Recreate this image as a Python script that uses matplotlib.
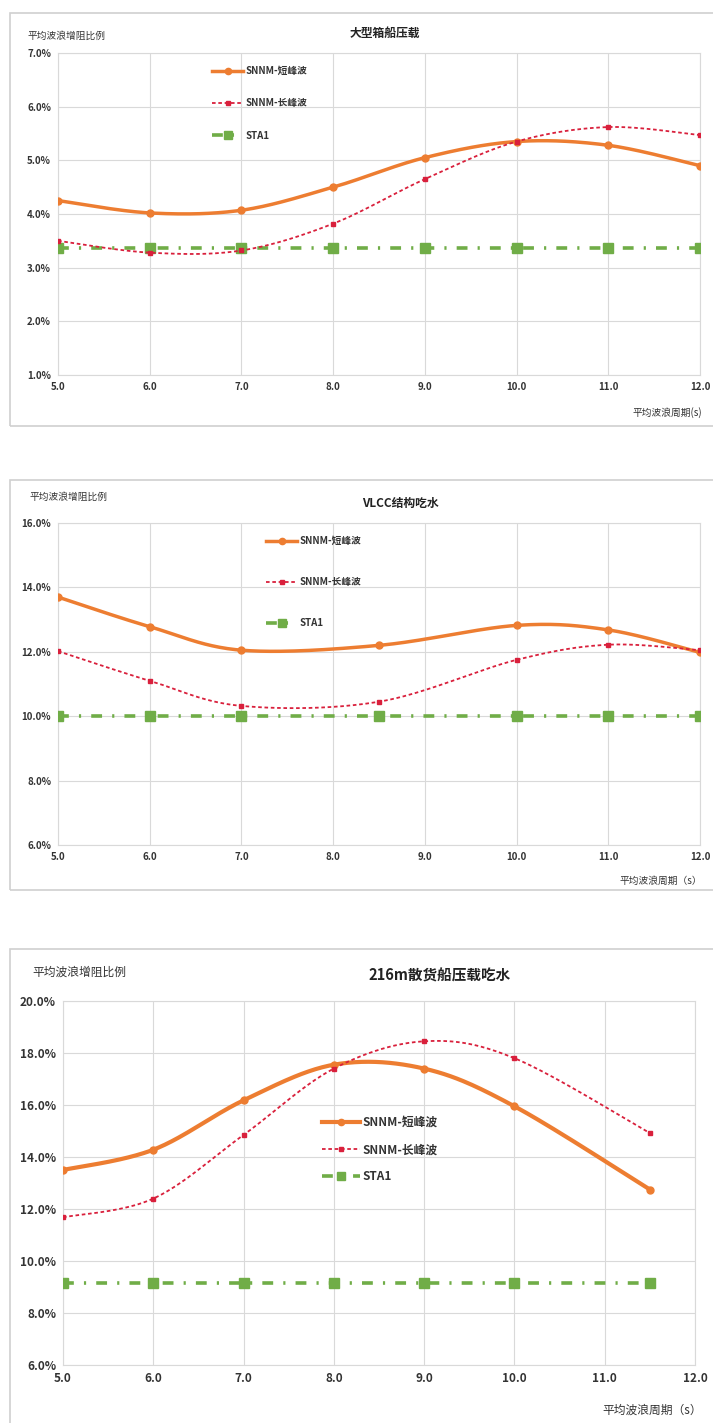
import numpy as np
import matplotlib
matplotlib.use("Agg")
import matplotlib.pyplot as plt
from matplotlib.patches import Rectangle

plt.rcParams['font.family'] = ['Noto Sans CJK SC', 'DejaVu Sans']

# ---- data (values in %) ----
titles = ["大型箱船压载", "VLCC结构吃水", "216m散货船压载吃水"]
series_names = ["SNNM-短峰波", "SNNM-长峰波", "STA1"]

x1 = [5, 6, 7, 8, 9, 10, 11, 12]
short1 = [4.25, 4.02, 4.07, 4.50, 5.05, 5.35, 5.28, 4.90]
long1 = [3.50, 3.28, 3.32, 3.82, 4.65, 5.35, 5.62, 5.47]
sta1_1 = [3.37] * 8

x2 = [5, 6, 7, 8.5, 10, 11, 12]
short2 = [13.70, 12.78, 12.05, 12.20, 12.82, 12.68, 11.98]
long2 = [12.02, 11.10, 10.32, 10.45, 11.75, 12.22, 12.05]
sta1_2 = [10.0] * 7

x3 = [5, 6, 7, 8, 9, 10, 11.5]
short3 = [13.50, 14.28, 16.18, 17.55, 17.40, 15.95, 12.75]
long3 = [11.68, 12.40, 14.85, 17.40, 18.45, 17.80, 14.92]
sta1_3 = [9.15] * 7

x_ticks = [5, 6, 7, 8, 9, 10, 11, 12]
y_ticks1 = [1, 2, 3, 4, 5, 6, 7]
y_ticks2 = [6, 8, 10, 12, 14, 16]
y_ticks3 = [6, 8, 10, 12, 14, 16, 18, 20]

W, H = 713, 1423
fig = plt.figure(figsize=(W / 100, H / 100), dpi=100)

ORANGE = "#ED7D31"
RED = "#D9203C"
GREEN = "#70AD47"


def fx(px):
    return px / W


def fy(py):
    return 1 - py / H


def smooth(x, y, w, h, xr, yr, n=40):
    # Excel-like smoothed line (Bezier through points, tension 1/6) in screen space
    px = (np.asarray(x, float) - xr[0]) / (xr[1] - xr[0]) * w
    py = (np.asarray(y, float) - yr[0]) / (yr[1] - yr[0]) * h
    P = np.column_stack([px, py])
    P = np.vstack([P[0], P, P[-1]])
    out = []
    t = np.linspace(0, 1, n)[:, None]
    for i in range(1, len(P) - 2):
        p0, p1, p2, p3 = P[i - 1], P[i], P[i + 1], P[i + 2]
        c1 = p1 + (p2 - p0) / 6
        c2 = p2 - (p3 - p1) / 6
        seg = ((1 - t) ** 3) * p1 + 3 * ((1 - t) ** 2) * t * c1 + 3 * (1 - t) * t ** 2 * c2 + t ** 3 * p2
        out.append(seg if i == 1 else seg[1:])
    out = np.vstack(out)
    sx = out[:, 0] / w * (xr[1] - xr[0]) + xr[0]
    sy = out[:, 1] / h * (yr[1] - yr[0]) + yr[0]
    return sx, sy


def panel(frame, box, xs, s, l, g, yticks, title, tfs, fs, leg_xy, leg_sp, ylab_xy, title_xy, xlab_xy, lw_s, lfs):
    # outer frame
    fx0, fy0, fx1, fy1 = frame
    fig.patches.append(Rectangle((fx(fx0), fy(fy1)), fx(fx1 - fx0), (fy1 - fy0) / H,
                                 transform=fig.transFigure, fill=False,
                                 edgecolor="#D0D0D0", lw=1.2))
    l0, t0, r0, b0 = box
    ax = fig.add_axes([fx(l0), fy(b0), fx(r0 - l0), (b0 - t0) / H])
    xr = (5, 12)
    yr = (yticks[0], yticks[-1])
    ax.set_xlim(*xr)
    ax.set_ylim(*yr)
    w, h = r0 - l0, b0 - t0

    sx, sy = smooth(xs, s, w, h, xr, yr)
    ax.plot(sx, sy, color=ORANGE, lw=lw_s, solid_capstyle="round", zorder=4)
    ax.plot(xs, s, color=ORANGE, marker="o", ms=5, ls="none", zorder=5)
    sx, sy = smooth(xs, l, w, h, xr, yr)
    ax.plot(sx, sy, color=RED, lw=1.3, dashes=(2, 1.5), zorder=4)
    ax.plot(xs, l, color=RED, marker="s", ms=3.5, ls="none", zorder=5)
    ax.plot(xs, g, color=GREEN, lw=2.6, dashes=(3, 2.8, 0.6, 2.8), zorder=3)
    ax.plot(xs, g, color=GREEN, marker="s", ms=6.5, ls="none", zorder=3)

    # legend handles drawn like Excel (line + marker)
    lh1, = ax.plot([], [], color=ORANGE, lw=lw_s, marker="o", ms=4.5)
    lh2, = ax.plot([], [], color=RED, lw=1.3, dashes=(2, 1.5), marker="s", ms=3.5)
    lh3, = ax.plot([], [], color=GREEN, lw=2.6, dashes=(3, 2.5, 0.6, 2.5), marker="s", ms=5.5)
    leg = ax.legend([lh1, lh2, lh3], series_names, loc="upper left",
                    bbox_to_anchor=(fx(leg_xy[0]), fy(leg_xy[1])),
                    bbox_transform=fig.transFigure, frameon=False,
                    labelspacing=leg_sp, handlelength=3.2, handletextpad=0.2,
                    borderaxespad=0, borderpad=0,
                    prop={"size": lfs, "weight": "bold"})
    for t in leg.get_texts():
        t.set_color("#333333")

    ax.set_xticks(x_ticks)
    ax.set_xticklabels([f"{v:.1f}" for v in x_ticks])
    ax.set_yticks(yticks)
    ax.set_yticklabels([f"{v:.1f}%" for v in yticks])
    ax.tick_params(length=0, labelsize=fs, colors="#333333", pad=5)
    for lab in ax.get_xticklabels() + ax.get_yticklabels():
        lab.set_fontweight("bold")
    ax.grid(True, color="#D9D9D9", lw=0.8)
    ax.set_axisbelow(True)
    for sp in ax.spines.values():
        sp.set_color("#D9D9D9")
        sp.set_linewidth(0.8)

    fig.text(fx(ylab_xy[0]), fy(ylab_xy[1]), "平均波浪增阻比例", fontsize=fs, ha="left",
             va="center", color="#333333")
    fig.text(fx(title_xy[0]), fy(title_xy[1]), title, fontsize=tfs, fontweight="bold",
             ha="center", va="center", color="#222222")
    fig.text(fx(xlab_xy[0]), fy(xlab_xy[1]), xlab_xy[2], fontsize=fs, ha="right",
             va="center", color="#333333")
    return ax


panel((10, 13, 716, 426), (58, 53, 700, 375), x1, short1, long1, sta1_1, y_ticks1,
      titles[0], 8.5, 7, (212, 66), 2.3, (28, 36), (385, 33), (702, 413, "平均波浪周期(s)"), 2.5, 7)

panel((10, 480, 716, 890), (58, 523, 700, 845), x2, short2, long2, sta1_2, y_ticks2,
      titles[1], 8.5, 7, (266, 536), 3.2, (30, 497), (400, 503), (702, 881, "平均波浪周期（s）"), 2.5, 7)

panel((10, 949, 716, 1430), (63, 1001, 695, 1365), x3, short3, long3, sta1_3, y_ticks3,
      titles[2], 10.5, 8.5, (322, 1116), 1.2, (32, 972), (440, 976), (702, 1410, "平均波浪周期（s）"), 3.0, 8.5)

plt.savefig("out.png", dpi=100)
